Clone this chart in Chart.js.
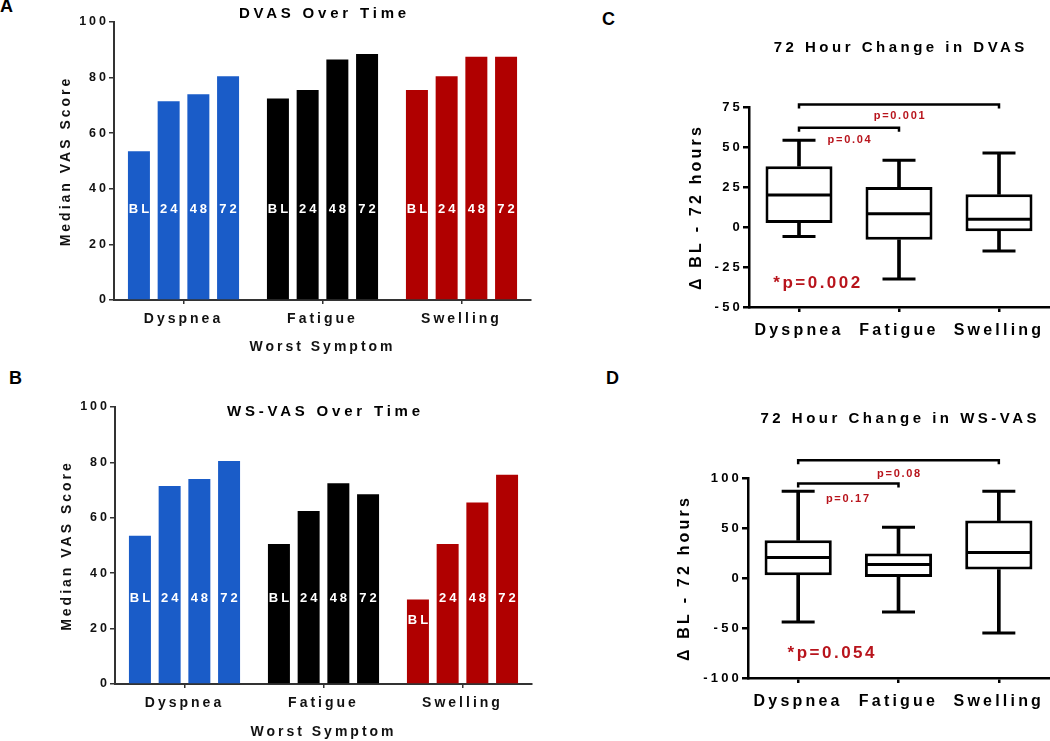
<!DOCTYPE html>
<html>
<head>
<meta charset="utf-8">
<script src="https://cdn.jsdelivr.net/npm/chart.js@4.4.1/dist/chart.umd.min.js"></script>
<style>
  body { margin: 0; background: #fff; width: 1050px; height: 741px; position: relative; overflow: hidden; font-family: 'Liberation Sans', Arial, sans-serif; }
  canvas { position: absolute; }
  .tag { position: absolute; font-weight: bold; font-size: 18px; line-height: 1; color: #000; }
</style>
</head>
<body>
<div class="tag" style="left:0px;top:-3px">A</div>
<div class="tag" style="left:9px;top:369px">B</div>
<div class="tag" style="left:602px;top:10px">C</div>
<div class="tag" style="left:606px;top:369px">D</div>

<canvas id="dvasBars" width="550" height="365" style="left:0;top:0"></canvas>
<canvas id="wsvasBars" width="550" height="371" style="left:0;top:370px"></canvas>
<canvas id="dvasBox" width="470" height="360" style="left:580px;top:0"></canvas>
<canvas id="wsvasBox" width="470" height="371" style="left:580px;top:370px"></canvas>

<script>
const symptoms = ['Dyspnea', 'Fatigue', 'Swelling'];
const timepoints = ['BL', '24', '48', '72'];

// A - DVAS medians, one array per time point (Dyspnea, Fatigue, Swelling)
const dvasBL = [53.5, 72.5, 75.5];
const dvas24 = [71.5, 75.5, 80.5];
const dvas48 = [74, 86.5, 87.5];
const dvas72 = [80.5, 88.5, 87.5];
const dvasTagAt = [[32.5, 32.5, 32.5], [32.5, 32.5, 32.5], [32.5, 32.5, 32.5], [32.5, 32.5, 32.5]];

// B - WS-VAS medians
const wsvasBL = [53.5, 50.5, 30.5];
const wsvas24 = [71.5, 62.5, 50.5];
const wsvas48 = [74, 72.5, 65.5];
const wsvas72 = [80.5, 68.5, 75.5];
const wsvasTagAt = [[31, 31, 23], [31, 31, 31], [31, 31, 31], [31, 31, 31]];

// C - change in DVAS, box and whiskers
const dDvasMin = [-6, -32.5, -15];
const dDvasQ1 = [2.5, -8, -2.7];
const dDvasMed = [20, 8.3, 4.8];
const dDvasQ3 = [38, 25, 20.4];
const dDvasMax = [54.2, 41.7, 46.3];
const dDvasPairText = ['p=0.001', 'p=0.04'];
const dDvasPairFrom = [0, 0];
const dDvasPairTo = [2, 1];
const dDvasPairBar = [76.5, 62];
const dDvasPairTextX = [1, 0.5];
const dDvasPairTextY = [69.4, 54.2];
const dDvasOverall = ['*p=0.002', 0.18, -35];

// D - change in WS-VAS
const dWsMin = [-44, -34, -55];
const dWsQ1 = [2.7, 1, 8.4];
const dWsMed = [20.4, 13.4, 25.4];
const dWsQ3 = [37.7, 24.4, 57.4];
const dWsMax = [86.7, 50.7, 86.7];
const dWsPairText = ['p=0.08', 'p=0.17'];
const dWsPairFrom = [0, 0];
const dWsPairTo = [2, 1];
const dWsPairBar = [117.7, 94.4];
const dWsPairTextX = [1, 0.49];
const dWsPairTextY = [104.4, 78.7];
const dWsOverall = ['*p=0.054', 0.33, -75];

const FONT = "'Liberation Sans', Arial, sans-serif";
const symptomColors = ['#1a5cc8', '#000000', '#b00000'];
const RED = '#b8141c';

function spacing(px) {
  return { id: 'spacing', beforeDraw(chart) { chart.ctx.letterSpacing = px + 'px'; } };
}

const panelTitle = {
  id: 'panelTitle',
  afterDraw(chart, args, opts) {
    const { ctx, chartArea } = chart;
    ctx.save();
    ctx.font = `bold ${opts.size}px ${FONT}`;
    ctx.letterSpacing = opts.spacing + 'px';
    ctx.fillStyle = '#000';
    ctx.textAlign = 'center';
    ctx.textBaseline = 'middle';
    ctx.fillText(opts.text, (chartArea.left + chartArea.right) / 2 + opts.spacing / 2, opts.y);
    ctx.restore();
  }
};

const barTags = {
  id: 'barTags',
  afterDatasetsDraw(chart, args, opts) {
    const { ctx } = chart;
    const y = chart.scales.y;
    ctx.save();
    ctx.font = `bold 13px ${FONT}`;
    ctx.letterSpacing = '3px';
    ctx.fillStyle = '#fff';
    ctx.textAlign = 'center';
    ctx.textBaseline = 'middle';
    chart.data.datasets.forEach((ds, i) => {
      chart.getDatasetMeta(i).data.forEach((bar, j) => {
        ctx.fillText(timepoints[i], bar.x + 1.5, y.getPixelForValue(opts.at[i][j]));
      });
    });
    ctx.restore();
  }
};

const pValues = {
  id: 'pValues',
  afterDraw(chart, args, opts) {
    const { ctx } = chart;
    const { x, y } = chart.scales;
    ctx.save();
    ctx.strokeStyle = '#000';
    ctx.lineWidth = 2.5;
    opts.from.forEach((f, i) => {
      const x0 = x.getPixelForValue(f);
      const x1 = x.getPixelForValue(opts.to[i]);
      const yy = y.getPixelForValue(opts.bar[i]);
      ctx.beginPath();
      ctx.moveTo(x0, yy + 4);
      ctx.lineTo(x0, yy);
      ctx.lineTo(x1, yy);
      ctx.lineTo(x1, yy + 4);
      ctx.stroke();
    });
    ctx.fillStyle = RED;
    ctx.textAlign = 'center';
    ctx.textBaseline = 'middle';
    ctx.font = `bold 11px ${FONT}`;
    ctx.letterSpacing = '1.7px';
    opts.text.forEach((t, i) => {
      ctx.fillText(t, x.getPixelForValue(opts.textX[i]) + 1, y.getPixelForValue(opts.textY[i]));
    });
    ctx.font = `bold 17px ${FONT}`;
    ctx.letterSpacing = '2.5px';
    ctx.fillText(opts.overall[0], x.getPixelForValue(opts.overall[1]) + 1, y.getPixelForValue(opts.overall[2]));
    ctx.restore();
  }
};

// fixed axis box, no extra room for overhanging labels
function fixX(h) {
  return (s) => { s.height = h; s.paddingLeft = 0; s.paddingRight = 0; };
}
function fixY(w) {
  return (s) => { s.width = w; s.paddingTop = 0; s.paddingBottom = 0; };
}

function barChart(id, series, tagAt, title, box) {
  const sets = series.map((data, i) => ({
    label: timepoints[i],
    data: data,
    backgroundColor: symptomColors,
    borderWidth: 0,
    categoryPercentage: 0.855,
    barPercentage: 0.74
  }));
  new Chart(document.getElementById(id), {
    type: 'bar',
    data: { labels: symptoms, datasets: sets },
    options: {
      responsive: false,
      animation: false,
      events: [],
      layout: { autoPadding: false, padding: { left: 0, right: box.right, top: box.top, bottom: box.bottom } },
      plugins: {
        legend: { display: false },
        tooltip: { enabled: false },
        panelTitle: { text: title, y: box.titleY, size: 15, spacing: 3.8 },
        barTags: { at: tagAt }
      },
      scales: {
        x: {
          afterFit: fixX(box.xHeight),
          grid: { offset: false, drawOnChartArea: false, drawTicks: true, tickLength: 4, color: '#333', lineWidth: 1.5 },
          border: { display: true, color: '#333', width: 2 },
          ticks: { color: '#111', font: { family: FONT, size: 14, weight: 'bold' }, padding: 7, maxRotation: 0, autoSkip: false },
          title: { display: true, text: 'Worst Symptom', color: '#111', font: { family: FONT, size: 14, weight: 'bold' }, padding: 0 }
        },
        y: {
          min: 0,
          max: 100,
          afterFit: fixY(box.yWidth),
          grid: { drawOnChartArea: false, drawTicks: true, tickLength: 5, color: '#333', lineWidth: 1.5 },
          border: { display: true, color: '#333', width: 2 },
          ticks: { stepSize: 20, color: '#111', font: { family: FONT, size: 12.5, weight: 'bold' }, padding: 0 },
          title: { display: true, text: 'Median VAS Score', color: '#111', font: { family: FONT, size: 14, weight: 'bold' }, padding: { top: box.yTitle, bottom: 0 } }
        }
      }
    },
    plugins: [spacing(3), panelTitle, barTags]
  });
}

function boxChart(id, q, pv, title, axis, box) {
  const lineMark = (data, r) => ({
    type: 'line', data: data, showLine: false, pointStyle: 'line', pointRadius: r,
    pointBorderWidth: 3, pointBorderColor: '#000', borderColor: '#000', order: 0
  });
  const whisker = (lo, hi) => ({
    type: 'bar', data: lo.map((v, i) => [v, hi[i]]), backgroundColor: '#000',
    borderWidth: 0, barThickness: 3, grouped: false, order: 2
  });
  new Chart(document.getElementById(id), {
    type: 'bar',
    data: {
      labels: symptoms,
      datasets: [
        {
          type: 'bar', data: q.q1.map((v, i) => [v, q.q3[i]]), backgroundColor: '#fff', borderColor: '#000',
          borderWidth: 3, borderSkipped: false, grouped: false, categoryPercentage: 1, barPercentage: 0.67, order: 1
        },
        whisker(q.min, q.q1),
        whisker(q.q3, q.max),
        lineMark(q.max, 16.5),
        lineMark(q.min, 16.5),
        lineMark(q.med, 32)
      ]
    },
    options: {
      responsive: false,
      animation: false,
      events: [],
      layout: { autoPadding: false, padding: { left: 0, right: box.right, top: box.top, bottom: box.bottom } },
      plugins: {
        legend: { display: false },
        tooltip: { enabled: false },
        panelTitle: { text: title, y: box.titleY, size: 15, spacing: 3.5 },
        pValues: pv
      },
      scales: {
        x: {
          afterFit: fixX(box.xHeight),
          grid: { offset: false, drawOnChartArea: false, drawTicks: true, tickLength: 5, color: '#000', lineWidth: 2.5 },
          border: { display: true, color: '#000', width: 2.5 },
          ticks: { color: '#000', font: { family: FONT, size: 16, weight: 'bold' }, padding: 9, maxRotation: 0, autoSkip: false },
        },
        y: {
          min: axis[0],
          max: axis[1],
          afterFit: fixY(box.yWidth),
          grid: { drawOnChartArea: false, drawTicks: true, tickLength: 6, color: '#000', lineWidth: 2.5 },
          border: { display: true, color: '#000', width: 2.5 },
          ticks: { stepSize: axis[2], color: '#000', font: { family: FONT, size: 13, weight: 'bold' }, padding: 0 },
          title: { display: true, text: '\u0394 BL - 72 hours', color: '#000', font: { family: FONT, size: 16, weight: 'bold' }, padding: { top: box.yTitle, bottom: 0 } }
        }
      }
    },
    plugins: [spacing(3.2), panelTitle, pValues]
  });
}

barChart('dvasBars', [dvasBL, dvas24, dvas48, dvas72], dvasTagAt, 'DVAS Over Time',
  { right: 19, top: 22, bottom: 9, xHeight: 56, yWidth: 114, yTitle: 57.6, titleY: 14 });
barChart('wsvasBars', [wsvasBL, wsvas24, wsvas48, wsvas72], wsvasTagAt, 'WS-VAS Over Time',
  { right: 18, top: 37, bottom: 0, xHeight: 57, yWidth: 115, yTitle: 58.6, titleY: 42 });

boxChart('dvasBox',
  { min: dDvasMin, q1: dDvasQ1, med: dDvasMed, q3: dDvasQ3, max: dDvasMax },
  { from: dDvasPairFrom, to: dDvasPairTo, bar: dDvasPairBar, text: dDvasPairText, textX: dDvasPairTextX, textY: dDvasPairTextY, overall: dDvasOverall },
  '72 Hour Change in DVAS', [-50, 75, 25],
  { right: 1, top: 107, bottom: 13, xHeight: 40, yWidth: 169, yTitle: 107.4, titleY: 48 });
boxChart('wsvasBox',
  { min: dWsMin, q1: dWsQ1, med: dWsMed, q3: dWsQ3, max: dWsMax },
  { from: dWsPairFrom, to: dWsPairTo, bar: dWsPairBar, text: dWsPairText, textX: dWsPairTextX, textY: dWsPairTextY, overall: dWsOverall },
  '72 Hour Change in WS-VAS', [-100, 100, 50],
  { right: 1, top: 108, bottom: 23, xHeight: 40, yWidth: 168, yTitle: 95.4, titleY: 49 });
</script>
</body>
</html>
